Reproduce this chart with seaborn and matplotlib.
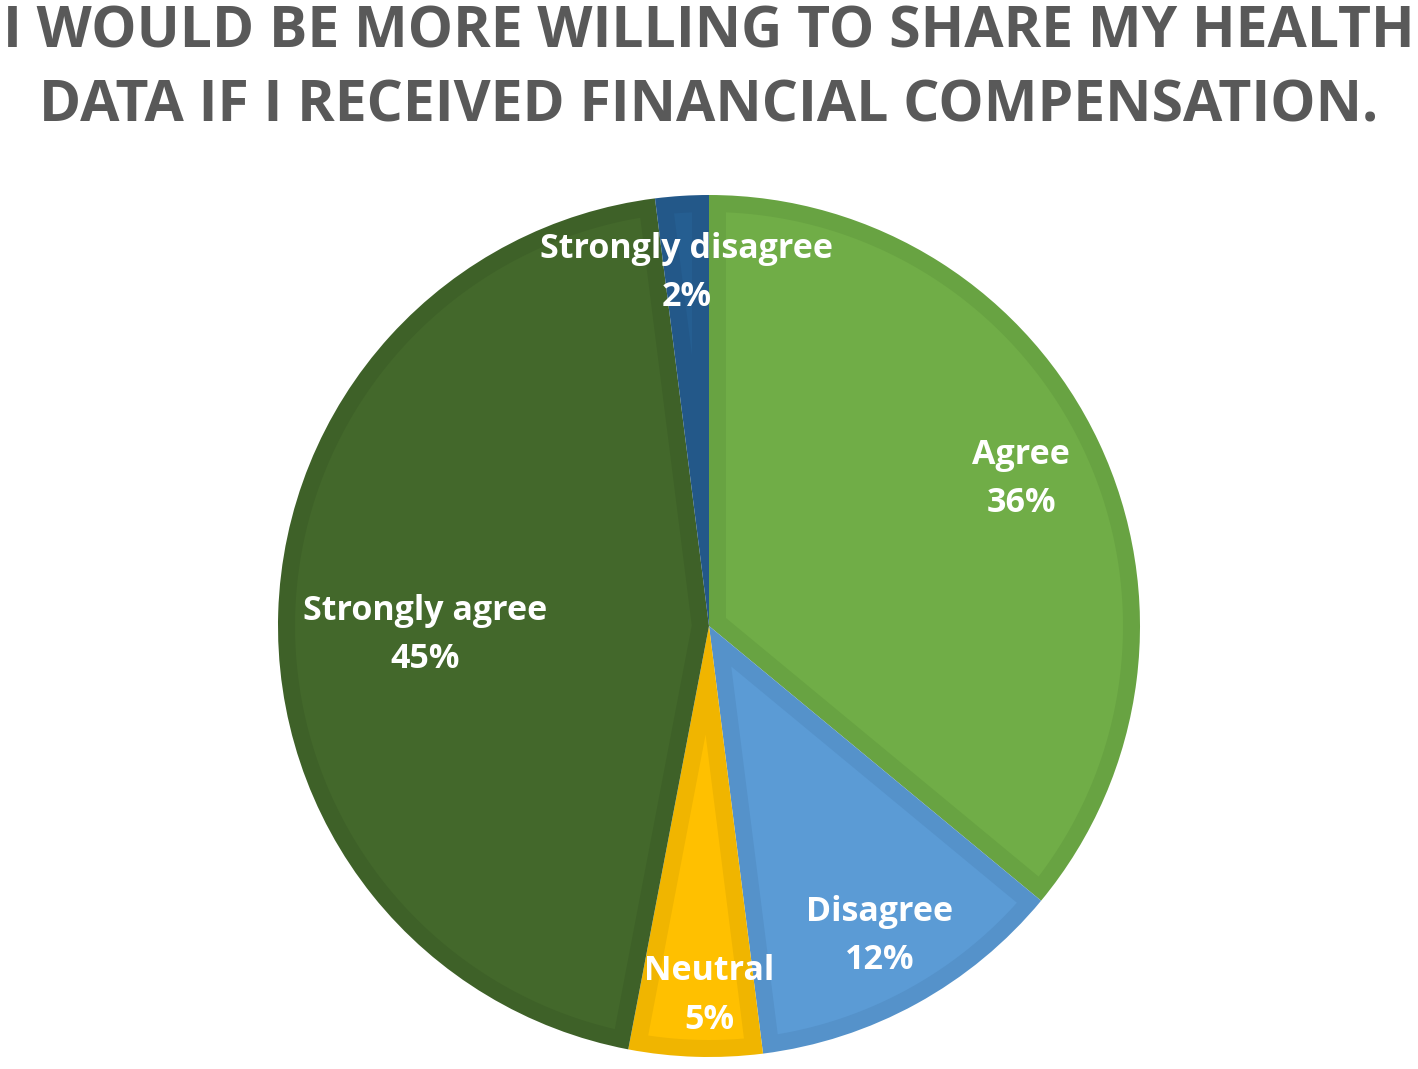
import numpy as np
import matplotlib
matplotlib.use("Agg")
import matplotlib.pyplot as plt
from matplotlib.patches import Polygon
import seaborn as sns

categories = ["Agree", "Disagree", "Neutral", "Strongly agree", "Strongly disagree"]
values = [36, 12, 5, 45, 2]
title_lines = ["I WOULD BE MORE WILLING TO SHARE MY HEALTH",
               "DATA IF I RECEIVED FINANCIAL COMPENSATION."]

fill_colors = ["#70AD47", "#5B9BD5", "#FFC000", "#43682B", "#255E91"]
edge_colors = ["#68A342", "#5592CA", "#F0B500", "#3E6128", "#235889"]
label_dist = [0.80, 0.82, 0.857, 0.66, 0.82]
label_shift = [0.0, 0.0, 1.8, 3.6, 0.0]

sns.set_theme(style="white")
plt.rcParams['font.family'] = ['Open Sans', 'DejaVu Sans']

W, H = 1418, 1069
fig = plt.figure(figsize=(W / 100, H / 100), dpi=100)
fig.patch.set_facecolor("white")

cx, cy, r = 709, 626, 431
ax = fig.add_axes([(cx - r) / W, (H - cy - r) / H, 2 * r / W, 2 * r / H])
wedges, _ = ax.pie(values, startangle=90, counterclock=False, colors=edge_colors,
                   radius=1.0, wedgeprops=dict(linewidth=0))
ax.set_xlim(-1, 1)
ax.set_ylim(-1, 1)
ax.set_aspect("equal")
ax.axis("off")

# inner (lighter) region of each slice, inset by a border
b = 17 / r
for w, fc in zip(wedges, fill_colors):
    t1, t2 = np.deg2rad(w.theta1), np.deg2rad(w.theta2)
    half = (t2 - t1) / 2
    mid = (t1 + t2) / 2
    R = w.r
    d = b / np.sin(half)
    apex = (d * np.cos(mid), d * np.sin(mid))
    delta = np.arcsin(b / (R - b))
    arc = np.linspace(t1 + delta, t2 - delta, 200)
    pts = [apex] + [((R - b) * np.cos(a), (R - b) * np.sin(a)) for a in arc]
    ax.add_patch(Polygon(pts, closed=True, facecolor=fc, edgecolor="none"))

total = sum(values)
for w, cat, v, dist, sh in zip(wedges, categories, values, label_dist, label_shift):
    ang = np.deg2rad((w.theta1 + w.theta2) / 2 + sh)
    x, y = dist * np.cos(ang), dist * np.sin(ang)
    ax.text(x, y, f"{cat}\n{round(100 * v / total)}%", ha="center", va="center",
            color="white", fontsize=24.5, fontweight="bold", linespacing=1.55,
            zorder=5)

fig.text(0.5, 1 - 47 / H, title_lines[0], ha="center", va="baseline",
         fontsize=41, fontweight="bold", color="#595959")
fig.text(0.5, 1 - 122 / H, title_lines[1], ha="center", va="baseline",
         fontsize=41, fontweight="bold", color="#595959")

fig.savefig("out.png", dpi=100, facecolor="white")
